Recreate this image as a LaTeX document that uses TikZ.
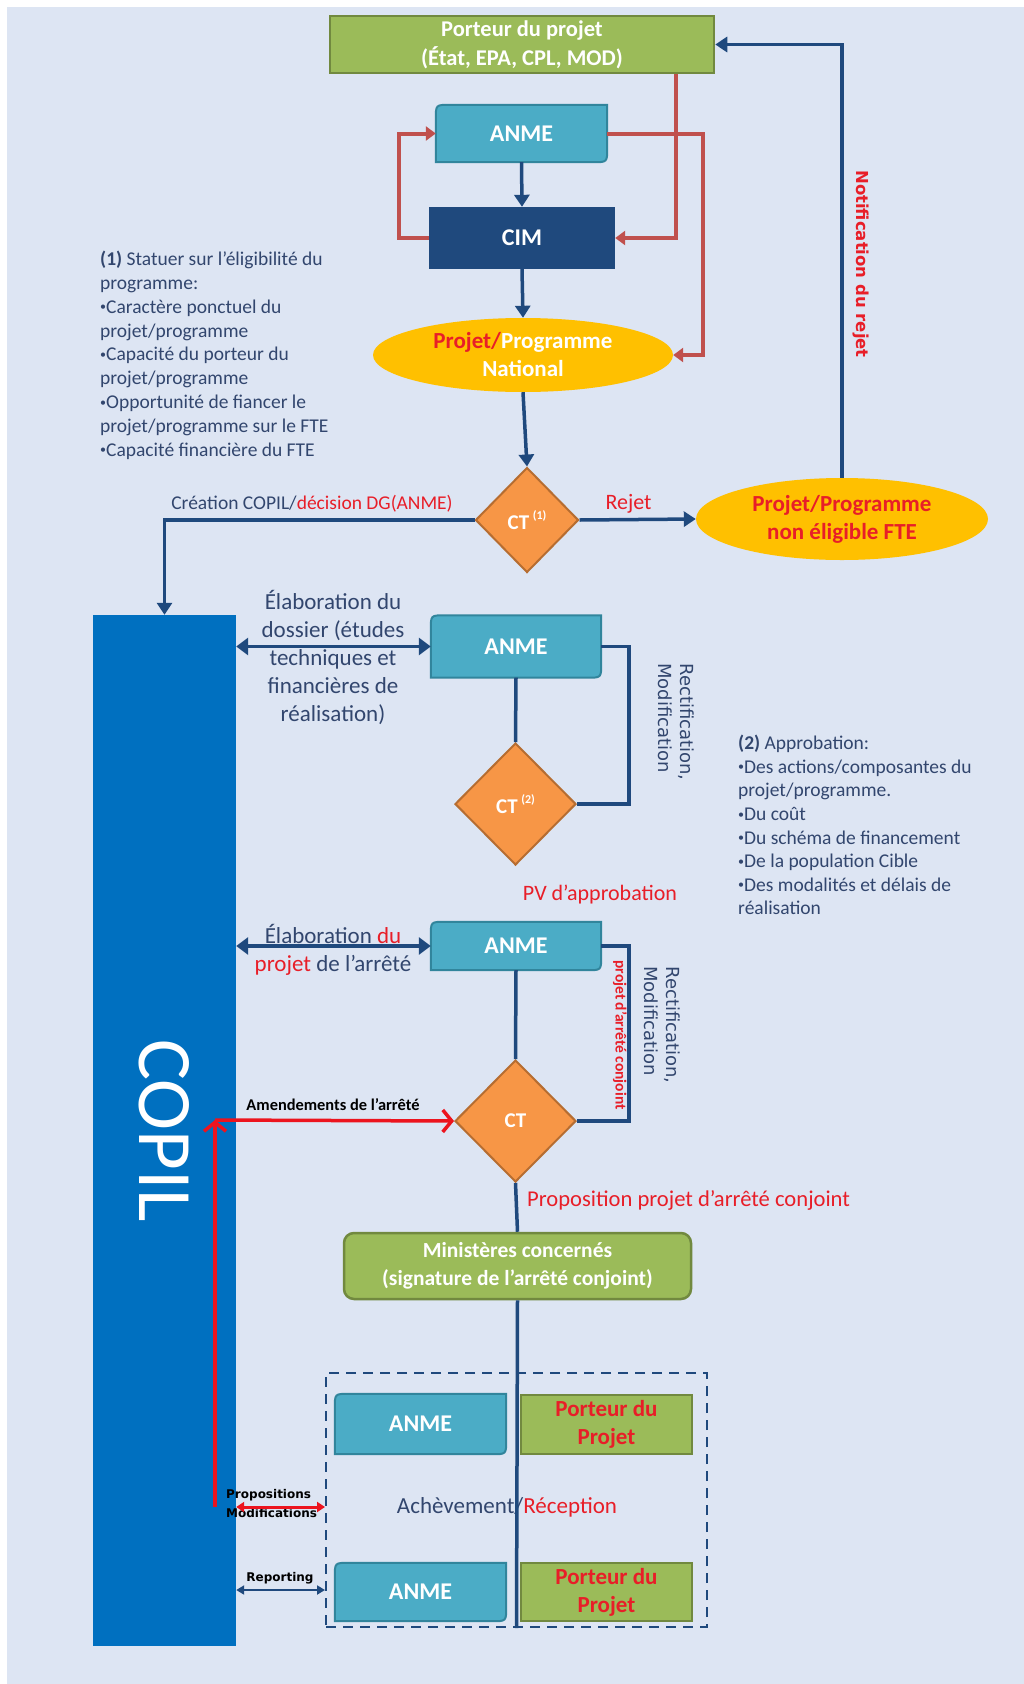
\documentclass[tikz,border=0pt]{standalone}
\usepackage{fontspec}
\setmainfont{Carlito}
\newfontfamily\dejavu{DejaVu Sans}
\usetikzlibrary{shapes.geometric,arrows.meta,backgrounds,calc}

\definecolor{bgc}{RGB}{221,229,243}
\definecolor{navy}{RGB}{31,73,125}
\definecolor{slate}{RGB}{50,70,110}
\definecolor{redt}{RGB}{232,30,40}
\definecolor{redl}{RGB}{236,20,30}
\definecolor{brick}{RGB}{192,80,77}
\definecolor{grn}{RGB}{155,187,89}
\definecolor{grnd}{RGB}{113,137,63}
\definecolor{tealc}{RGB}{75,172,198}
\definecolor{teald}{RGB}{49,133,156}
\definecolor{gold}{RGB}{255,192,0}
\definecolor{orng}{RGB}{247,150,70}
\definecolor{orngd}{RGB}{182,109,49}
\definecolor{copilc}{RGB}{0,112,192}

\newcommand\fsz[2]{\fontsize{#1}{#2}\selectfont}
\newcommand\bul{\raisebox{0.12em}{\fontsize{12}{12}\selectfont•}}
\newcommand\anmeshape[1]{%
  \filldraw[fill=tealc, draw=teald, line width=2pt]
    ([xshift=14pt]#1.north west) -- (#1.north east) -- ([yshift=14pt]#1.south east)
    .. controls (#1.south east) .. ([xshift=-14pt]#1.south east) -- (#1.south west)
    -- ([yshift=-14pt]#1.north west) .. controls (#1.north west) .. ([xshift=14pt]#1.north west) -- cycle;}

\tikzset{
  greenbox/.style={rectangle, fill=grn, draw=grnd, line width=2.5pt, text=white,
     font=\fsz{22.5}{29}\bfseries, align=center, inner sep=0},
  anmenode/.style={rectangle, inner sep=0, text=white, font=\fsz{24}{28}\bfseries},
  ctbox/.style={diamond, fill=orng, draw=orngd, line width=2pt, inner sep=0,
     text=white, font=\fsz{21}{24}\bfseries},
  ellbox/.style={ellipse, fill=gold, draw=none, inner sep=0, font=\fsz{23}{28}\bfseries, align=center},
  conn/.style={draw=navy, line width=3.5pt},
  arr/.style={conn, -{Triangle[length=12pt,width=15pt]}},
  dbl/.style={conn, {Triangle[length=12pt,width=17pt]}-{Triangle[length=12pt,width=17pt]}},
  redarr/.style={draw=brick, line width=4pt, -{Triangle[length=10pt,width=14pt]}},
  redline/.style={draw=redl, line width=3.5pt},
  slatetxt/.style={text=slate, inner sep=0},
}

\begin{document}
\begin{tikzpicture}[x=1pt,y=-1pt]
\useasboundingbox (0,0) rectangle (1024,1684);
\begin{scope}[on background layer]
  \fill[white] (0,0) rectangle (1024,1684);
  \fill[bgc] (7,7) rectangle (1024,1684);
\end{scope}

% ---------- nodes ----------
\node[greenbox, minimum width=384, minimum height=57] (P0) at (522,44.5) {Porteur du projet\\(État, EPA, CPL, MOD)};
\node[anmenode, minimum width=171, minimum height=57] (A1) at (521.5,133.5) {ANME};
\node[rectangle, fill=navy, text=white, inner sep=0, font=\fsz{24}{28}\bfseries,
      minimum width=186, minimum height=62] (CIM) at (522,238) {CIM};
\node[ellbox, text=white, minimum width=300, minimum height=74] (E1) at (523,355)
   {{\color{redt}Projet/}Programme\\National};
\node[ctbox, minimum width=103, minimum height=105] (CT1) at (527,520)
   {CT\,\raisebox{0.45em}{\fsz{12}{12}(1)}};
\node[ellbox, text=redt, minimum width=292, minimum height=82] (E2) at (842,519)
   {Projet/Programme\\non éligible FTE};

\node[rectangle, fill=copilc, inner sep=0, text=white, minimum width=143, minimum height=1031]
   (COPIL) at (164.5,1130.5) {\rotatebox{-90}{\fsz{77}{77}COPIL}};

\node[anmenode, minimum width=170, minimum height=62] (A2) at (516,646.5) {ANME};
\node[ctbox, minimum width=121, minimum height=122] (CT2) at (515.5,804)
   {CT\,\raisebox{0.45em}{\fsz{12}{12}(2)}};
\node[anmenode, minimum width=170, minimum height=48] (A3) at (516,946) {ANME};
\node[ctbox, minimum width=121, minimum height=122] (CT3) at (515.5,1121) {CT};

\node[greenbox, rounded corners=10pt, font=\fsz{21.5}{28}\bfseries, minimum width=347, minimum height=66]
   (MIN) at (517.5,1266) {Ministères concernés\\(signature de l’arrêté conjoint)};

\node[draw=navy, line width=2pt, dash pattern=on 10pt off 7pt, minimum width=381, minimum height=254,
      inner sep=0] (DB) at (516.5,1500) {};
\node[anmenode, minimum width=171, minimum height=60] (A4) at (420.5,1424) {ANME};
\node[greenbox, text=redt, font=\fsz{23}{28}\bfseries, line width=2pt, minimum width=171, minimum height=59]
   (PP1) at (606.5,1424) {Porteur du\\Projet};
\node[anmenode, minimum width=171, minimum height=58] (A5) at (420.5,1592) {ANME};
\node[greenbox, text=redt, font=\fsz{23}{28}\bfseries, line width=2pt, minimum width=171, minimum height=58]
   (PP2) at (606.5,1592) {Porteur du\\Projet};

\begin{scope}[on background layer]
  \anmeshape{A1}\anmeshape{A2}\anmeshape{A3}\anmeshape{A4}\anmeshape{A5}
\end{scope}

% ---------- texts ----------
\node[slatetxt, anchor=north west, align=left, font=\fsz{19.5}{23.8}] (T1) at (100,251)
  {{\bfseries(1)} Statuer sur l’éligibilité du\\programme:\\\bul Caractère ponctuel du\\projet/programme\\\bul Capacité du porteur du\\projet/programme\\\bul Opportunité de fiancer le\\projet/programme sur le FTE\\\bul Capacité financière du FTE};
\node[slatetxt, anchor=north west, align=left, font=\fsz{19.5}{23.6}] (T2) at (738,735)
  {{\bfseries(2)} Approbation:\\\bul Des actions/composantes du\\projet/programme.\\\bul Du coût\\\bul Du schéma de financement\\\bul De la population Cible\\\bul Des modalités et délais de\\réalisation};

\node[text=redt, font=\fsz{16.5}{20}\dejavu\bfseries, rotate=-90, inner sep=0] (NR) at (861,264) {Notification du rejet};
\node[text=redt, font=\fsz{22}{26}, inner sep=0] (LREJ) at (628.5,504) {Rejet};
\node[slatetxt, font=\fsz{19.5}{24}] (LCRE) at (312,504) {Création COPIL/{\color{redt}décision DG(ANME)}};

\node[slatetxt, align=center, font=\fsz{23}{28}] (LDOS) at (333,657) {Élaboration du\\dossier (études\\techniques et\\financières de\\réalisation)};
\node[slatetxt, align=left, rotate=-90, font=\fsz{18}{22}\dejavu] (LRM1) at (676,722) {Rectification,\\Modification};
\node[text=redt, font=\fsz{22}{26}, inner sep=0] (LPV) at (600,895) {PV d’approbation};

\node[slatetxt, align=center, font=\fsz{23}{28}] (LARR) at (333,950) {Élaboration {\color{redt}du}\\{\color{redt}projet} de l’arrêté};
\node[text=redt, rotate=-90, font=\fsz{15.5}{18}\bfseries, inner sep=0] (LPAC) at (620,1035) {projet d’arrêté conjoint};
\node[slatetxt, align=left, rotate=-90, font=\fsz{18}{22}\dejavu] (LRM2) at (662,1025) {Rectification,\\Modification};

\node[text=black, font=\fsz{16.4}{20}\bfseries, inner sep=0] (LAM) at (333,1105) {Amendements de l’arrêté};
\node[text=redt, anchor=west, font=\fsz{22.6}{26}, inner sep=0] (LPROP) at (527,1200) {Proposition projet d’arrêté conjoint};

\node[slatetxt, font=\fsz{23}{28}] (LACH) at (507,1507) {Achèvement/{\color{redt}Réception}};
\node[text=black, anchor=west, align=left, font=\fsz{12}{19}\dejavu\bfseries, inner sep=0] (LPM) at (226,1504) {Propositions\\Modifications};
\node[text=black, font=\fsz{12}{14}\dejavu\bfseries, inner sep=0] (LREP) at (280,1578) {Reporting};

% ---------- connectors ----------
\draw[arr] (A1.south) -- (CIM.north);
\draw[arr] (CIM.south) -- (E1.north);
\draw[arr] (E1.south) -- (CT1.north);
\draw[redarr] (CIM.west) -- ++(-30,0) |- (A1.west);
\draw[redarr] (A1.east) -- ++(96,0) |- (E1.east);
\draw[redarr] ([xshift=154pt]P0.south) |- (CIM.east);
\draw[arr] (E2.north) |- (P0.east);
\draw[arr] (CT1.east) -- (E2.west);
\draw[arr] (CT1.west) -| (COPIL.north);

\draw[dbl] (COPIL.east |- A2.west) -- (A2.west);
\draw[conn] (A2.south) -- (CT2.north);
\draw[conn] (A2.east) -- ++(28,0) |- (CT2.east);

\draw[dbl] (COPIL.east |- A3.west) -- (A3.west);
\draw[conn] (A3.south) -- (CT3.north);
\draw[conn] (A3.east) -- ++(28,0) |- (CT3.east);

\draw[conn] (CT3.south) -- (MIN.north);
\draw[conn] (MIN.south) -- (DB.south);

\coordinate (rb) at (215,1507);
\coordinate (rc) at (215,1120);
\coordinate (rp) at (0,1590);
\draw[redline, -{Straight Barb[length=9pt,width=22pt]}] (rb) -- (rc);
\draw[redline, -{Straight Barb[length=9pt,width=22pt]}] (rc) -- (CT3.west);
\draw[redline, line width=3pt, {Triangle[length=8pt,width=10pt]}-{Triangle[length=8pt,width=10pt]}] (COPIL.east |- rb) -- (DB.west |- rb);
\draw[draw=navy, line width=2pt, {Triangle[length=8pt,width=9pt]}-{Triangle[length=8pt,width=9pt]}] (COPIL.east |- rp) -- (DB.west |- rp);
\end{tikzpicture}
\end{document}
